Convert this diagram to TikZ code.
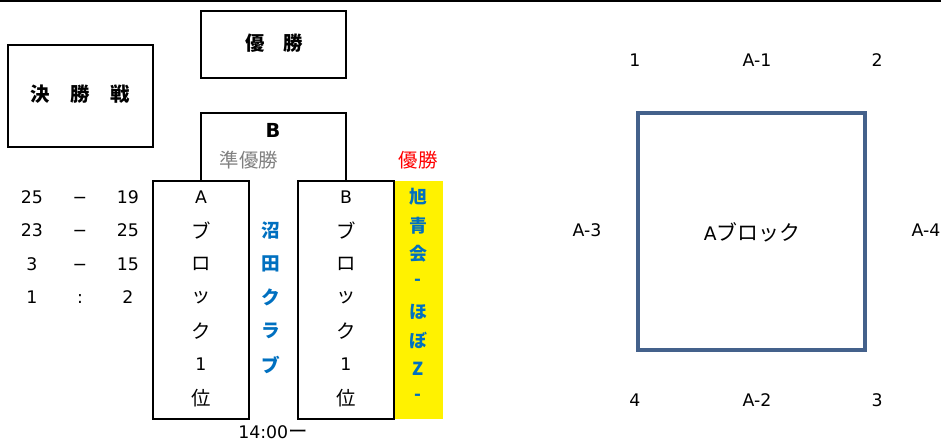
\documentclass[tikz,border=0pt]{standalone}
\usepackage{fontspec}
\setmainfont{DejaVu Sans}
\newfontfamily\jp[Scale=1.12]{Noto Sans CJK JP}
\usetikzlibrary{positioning}
\definecolor{blockblue}{RGB}{68,97,139}
\definecolor{teamblue}{RGB}{0,112,192}
\definecolor{runnergray}{RGB}{128,128,128}
\begin{document}
\begin{tikzpicture}[x=0.75pt,y=-0.75pt,
  every node/.style={inner sep=0pt,font=\fontsize{13}{15}\selectfont},
  frame/.style={line width=1.5pt},
  score/.style={text height=9.5pt,text depth=0pt},
  team/.style={text=teamblue,font=\fontsize{12.5}{15}\selectfont\jp\bfseries}]
\useasboundingbox (0,0) rectangle (941,441);
\draw[line width=1.5pt] (0,1) -- (941,1);
% titles
\draw[frame] (8,45) rectangle (153,147);
\node (final) at (80.5,94) {\jp\bfseries 決\hspace{15.4pt}勝\hspace{15.4pt}戦};
\draw[frame] (201,11) rectangle (346,78);
\node (champ) at (274,43) {\jp\bfseries 優\hspace{14pt}勝};
% bracket
\draw[frame] (201,181) |- (346,113) -- (346,181);
\node[font=\fontsize{14.5}{17}\selectfont\bfseries] (winner) at (273,130) {B};
\node[text=runnergray] (second) at (249,160) {\jp 準優勝};
\node[text=red] (first) at (418,160) {\jp 優勝};
% blocks
\fill[yellow] (394,181) rectangle (443,419);
\draw[frame] (153,181) rectangle (249,419);
\draw[frame] (298,181) rectangle (394,419);
\foreach \ch [count=\i] in {A,{\jp ブ},{\jp ロ},{\jp ッ},{\jp ク},1,{\jp 位}}
  \node (a\i) at (201,{197+33.5*(\i-1)}) {\ch};
\foreach \ch [count=\i] in {B,{\jp ブ},{\jp ロ},{\jp ッ},{\jp ク},1,{\jp 位}}
  \node (b\i) at (346,{197+33.5*(\i-1)}) {\ch};
\foreach \ch [count=\i] in {沼,田,ク,ラ,ブ}
  \node[team] (n\i) at (271,{230.5+33.5*(\i-1)}) {\ch};
\foreach \ch [count=\i] in {旭,青,会,-,ほ,ぼ,Z,-}
  \node[team,font=\fontsize{12}{15}\selectfont\jp\bfseries] (k\i) at (418,{197+28.6*(\i-1)}) {\ch};
% scores
\foreach \l/\m/\r [count=\i] in {25/−/19,23/−/25,3/−/15,1/:/2}{
  \node[score] (sl\i) at (32,{197+33.5*(\i-1)}) {\l};
  \node[score] (sm\i) at (80,{197+33.5*(\i-1)}) {\m};
  \node[score] (sr\i) at (128,{197+33.5*(\i-1)}) {\r};
}
\node[score] (time) at (273,432) {14:00{\jp ー}};
% A block
\draw[blockblue,line width=2.6pt] (638,113) rectangle (865,350);
\node[font=\fontsize{14}{17}\selectfont] (ablk) at (752,232) {A{\jp ブロック}};
\node (c1) at (635,60) {1};
\node (s1) at (757,60) {A-1};
\node (c2) at (877,60) {2};
\node (s3) at (587,230) {A-3};
\node (s4) at (926,230) {A-4};
\node (c4) at (635,400) {4};
\node (s2) at (757,400) {A-2};
\node (c3) at (877,400) {3};
\end{tikzpicture}
\end{document}
